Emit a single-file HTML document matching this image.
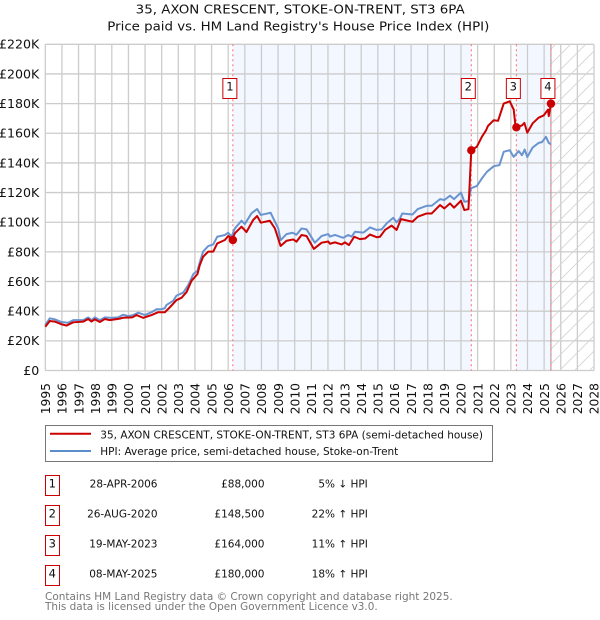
<!DOCTYPE html>
<html>
<head>
<meta charset="utf-8">
<style>
html,body{margin:0;padding:0;background:#fff;}
svg{display:block;font-family:"DejaVu Sans",sans-serif;}
</style>
</head>
<body>
<svg id="chart" width="600" height="620" viewBox="0 0 600 620" xmlns="http://www.w3.org/2000/svg">
<defs>
<pattern id="hatch" patternUnits="userSpaceOnUse" width="15" height="15">
<path d="M-3 3 L3 -3 M0 15 L15 0 M12 18 L18 12" stroke="#d4d4d4" stroke-width="0.9" fill="none"/>
</pattern>
</defs>
<text x="135.7" y="13.5" textLength="329" lengthAdjust="spacingAndGlyphs" font-size="12.4" fill="#111">35, AXON CRESCENT, STOKE-ON-TRENT, ST3 6PA</text>
<text x="107.3" y="30.5" textLength="382" lengthAdjust="spacingAndGlyphs" font-size="12.4" fill="#111">Price paid vs. HM Land Registry's House Price Index (HPI)</text>
<g id="plot"></g>
<g>
<rect x="45.5" y="425.5" width="447" height="36" fill="#fff" stroke="#777" stroke-width="1"/>
<line x1="50" x2="91" y1="433.7" y2="433.7" stroke="#cc0000" stroke-width="2"/>
<text x="100.3" y="438.3" textLength="382.7" lengthAdjust="spacingAndGlyphs" font-size="11" fill="#111">35, AXON CRESCENT, STOKE-ON-TRENT, ST3 6PA (semi-detached house)</text>
<line x1="50" x2="91" y1="451" y2="451" stroke="#5b8dcd" stroke-width="2"/>
<text x="100.3" y="455" textLength="298" lengthAdjust="spacingAndGlyphs" font-size="11" fill="#111">HPI: Average price, semi-detached house, Stoke-on-Trent</text>
</g>
<g id="sales-table" font-size="10.5" fill="#111"></g>
<text x="45" y="600" textLength="407.7" lengthAdjust="spacingAndGlyphs" font-size="11" fill="#777">Contains HM Land Registry data © Crown copyright and database right 2025.</text>
<text x="45" y="610" textLength="332.7" lengthAdjust="spacingAndGlyphs" font-size="11" fill="#777">This data is licensed under the Open Government Licence v3.0.</text>
</svg>
<script>
const yearTicks = [1995,1996,1997,1998,1999,2000,2001,2002,2003,2004,2005,2006,2007,2008,2009,2010,2011,2012,2013,2014,2015,2016,2017,2018,2019,2020,2021,2022,2023,2024,2025,2026,2027,2028];
const valueTicks = [0,20,40,60,80,100,120,140,160,180,200,220];
const valueTickLabels = ['£0','£20K','£40K','£60K','£80K','£100K','£120K','£140K','£160K','£180K','£200K','£220K'];

const hpiYears = [1995,1995.27,1995.57,1995.97,1996.37,1996.68,1997.28,1997.58,1997.78,1997.98,1998.28,1998.58,1998.98,1999.38,1999.68,1999.98,2000.29,2000.59,2000.99,2001.39,2001.69,2001.99,2002.19,2002.29,2002.69,2002.89,2003.29,2003.6,2003.9,2004.15,2004.33,2004.49,2004.8,2005.1,2005.34,2005.8,2006.0,2006.2,2006.4,2006.8,2007,2007.4,2007.74,2007.96,2008.2,2008.55,2008.81,2009.01,2009.15,2009.51,2009.87,2010.11,2010.41,2010.71,2011.21,2011.62,2012.02,2012.12,2012.42,2012.92,2013.22,2013.42,2013.63,2014.13,2014.53,2014.93,2015.23,2015.53,2015.93,2016.13,2016.33,2016.47,2017.08,2017.4,2017.94,2018.24,2018.74,2019,2019.34,2019.58,2020,2020.2,2020.45,2020.6,2020.96,2021.26,2021.56,2021.97,2022.31,2022.57,2022.93,2023.17,2023.47,2023.67,2023.83,2023.99,2024.31,2024.67,2024.87,2025.11,2025.28,2025.41];
const hpiValues = [30.7,35.2,34.5,32.7,32.2,34,34,35.8,34,35.8,34,35.8,35.5,35.8,37.6,36.7,37.4,39,37.4,39.3,41.3,41.3,42,44.2,47,50.5,52.5,57.6,65,67.3,74.5,80.2,83.9,85,90.2,91.4,92.9,90.2,95.8,101,98.8,106,108.9,104.9,105.5,106.4,100.4,95.8,87.9,92,92.9,91.6,95.8,95.2,86.2,90.7,92,90.3,91.4,89.5,91.4,90.3,93.6,93,96.5,94.8,95.2,99.2,103,99.9,102.6,105.9,105.2,108.9,111.1,111.1,115.6,115,117.9,115.6,120,113.8,114.2,122.9,124.5,129.6,134,137.8,138.5,147.5,148.6,144.1,148,145.2,149,144,150.4,153.5,154,157.6,153.5,152.6];

const priceYears = [1995,1995.27,1995.57,1995.97,1996.27,1996.68,1997.28,1997.58,1997.78,1997.98,1998.28,1998.58,1998.88,1999.48,1999.68,2000.23,2000.49,2000.89,2001.39,2001.79,2002.19,2002.49,2002.89,2003.19,2003.5,2003.8,2004.15,2004.29,2004.49,2004.8,2005.1,2005.34,2005.8,2006,2006.24,2006.4,2006.8,2007.1,2007.5,2007.74,2007.96,2008.5,2008.81,2009.15,2009.51,2009.91,2010.11,2010.41,2010.71,2011.15,2011.62,2012.02,2012.12,2012.42,2012.82,2013.02,2013.26,2013.58,2013.92,2014.23,2014.53,2014.93,2015.13,2015.43,2015.83,2016.13,2016.39,2017.08,2017.4,2017.94,2018.24,2018.74,2019,2019.34,2019.58,2020,2020.2,2020.45,2020.62,2020.96,2021.26,2021.5,2021.62,2021.97,2022.23,2022.57,2022.93,2023.17,2023.27,2023.33,2023.67,2023.81,2023.99,2024.31,2024.67,2024.97,2025.24,2025.28,2025.41];
const priceValues = [29.5,33.4,33,31.2,30.3,32.5,33,34.7,33,34.5,32.7,34.7,34,35,35.6,35.8,37.4,35.5,37.4,39.3,39.3,42.6,47.5,49,53,60.6,65,71.1,76.7,80.2,80.2,85.7,88,90.7,88.5,92.5,97,93.4,101.5,104.2,99.7,101,95.8,84,87.5,88.4,86.9,91.4,90.7,82,86.2,87,85.5,86.4,85,86.4,84.6,90.2,88.6,89,91.7,89.9,90.2,94.8,97.7,94.8,102.1,100.3,103.7,105.9,105.9,111.6,109.3,112.7,109.8,114.5,108.2,108.8,148.5,151,157.7,161.8,164.9,168.8,168.4,180,181.6,176,165.9,164,165.3,167,160.4,166.7,170.5,172,176,171.6,180];

const saleNumbers = ['1','2','3','4'];
const saleYears = [2006.28,2020.62,2023.33,2025.41];
const salePrices = [88,148.5,164,180];
const saleDates = ['28-APR-2006','26-AUG-2020','19-MAY-2023','08-MAY-2025'];
const salePriceLabels = ['£88,000','£148,500','£164,000','£180,000'];
const saleChanges = ['5% ↓ HPI','22% ↑ HPI','11% ↑ HPI','18% ↑ HPI'];

const NS = 'http://www.w3.org/2000/svg';
const plot = document.getElementById('plot');
const table = document.getElementById('sales-table');
const X0 = 45.3, X1 = 594, Y0 = 370.5, Y1 = 44.3;
const xMin = yearTicks[0], xMax = yearTicks[yearTicks.length - 1];
const vMax = valueTicks[valueTicks.length - 1];
function xScale(year) { return X0 + (year - xMin) / (xMax - xMin) * (X1 - X0); }
function yScale(value) { return Y0 - value / vMax * (Y0 - Y1); }
function make(tag, attrs, parent, text) {
  const el = document.createElementNS(NS, tag);
  for (const k in attrs) el.setAttribute(k, attrs[k]);
  if (text !== undefined) el.textContent = text;
  parent.appendChild(el);
  return el;
}

const hatchEnd = xScale(saleYears[3]);
const band1 = make('rect', {x: xScale(saleYears[0]), y: Y1, width: xScale(saleYears[1]) - xScale(saleYears[0]), height: Y0 - Y1, fill: '#f3f7ff'}, plot);


const band2 = make('rect', {x: xScale(saleYears[2]), y: Y1, width: hatchEnd - xScale(saleYears[2]), height: Y0 - Y1, fill: '#f3f7ff'}, plot);



yearTicks.forEach(function (yr) {
  const x = xScale(yr);
  const grid = make('line', {x1: x, x2: x, y1: Y1, y2: Y0, stroke: '#cccccc', 'stroke-width': 1.3}, plot);
  
  
  const label = make('text', {transform: 'translate(' + (x + 4.7) + ',' + (Y0 + 12.5) + ') rotate(-90)', 'text-anchor': 'end', 'font-size': 12.3, fill: '#111'}, plot, String(yr));
  
  
});
valueTicks.forEach(function (v, i) {
  const y = yScale(v);
  const grid = make('line', {x1: X0, x2: X1, y1: y, y2: y, stroke: '#cccccc', 'stroke-width': 1.3}, plot);
  
  
  const label = make('text', {x: 39.3, y: y + 4.4, 'text-anchor': 'end', 'font-size': 12.6, fill: '#111'}, plot, valueTickLabels[i]);
  
  
});

const hatch = make('rect', {x: hatchEnd, y: Y1, width: X1 - hatchEnd, height: Y0 - Y1, fill: 'url(#hatch)'}, plot);


const endLine = make('line', {x1: hatchEnd, x2: hatchEnd, y1: Y1, y2: Y0, stroke: '#999999', 'stroke-width': 1}, plot);



saleYears.forEach(function (yr) {
  const x = xScale(yr);
  const guide = make('line', {x1: x, x2: x, y1: Y1, y2: Y0, stroke: '#ff6b6b', 'stroke-width': 1, 'stroke-dasharray': '2 3'}, plot);
  
  
});

function seriesPath(years, values) {
  return years.map(function (yr, i) {
    return (i ? 'L' : 'M') + xScale(yr).toFixed(2) + ' ' + yScale(values[i]).toFixed(2);
  }).join(' ');
}
const hpiLine = make('path', {d: seriesPath(hpiYears, hpiValues), fill: 'none', stroke: '#6a94d0', 'stroke-width': 2, 'stroke-linejoin': 'round'}, plot);


const priceLine = make('path', {d: seriesPath(priceYears, priceValues), fill: 'none', stroke: '#cc0000', 'stroke-width': 2, 'stroke-linejoin': 'round'}, plot);



saleYears.forEach(function (yr, i) {
  const x = xScale(yr);
  const dot = make('circle', {cx: x, cy: yScale(salePrices[i]), r: 4.2, fill: '#cc0000'}, plot);
  
  
  const box = make('rect', {x: x - 10, y: 78.5, width: 14, height: 20, fill: '#fff', stroke: '#cc0000', 'stroke-width': 1}, plot);
  
  
  const num = make('text', {x: x - 3, y: 90.7, 'text-anchor': 'middle', 'font-size': 11.5, fill: '#111'}, plot, saleNumbers[i]);
  
  

  const rowY = 475.5 + i * 30;
  const rowBox = make('rect', {x: 45.5, y: rowY, width: 14, height: 20, fill: '#fff', stroke: '#cc0000', 'stroke-width': 1}, table);
  
  
  const rowNum = make('text', {x: 52.3, y: rowY + 12, 'text-anchor': 'middle', 'font-size': 11.5}, table, saleNumbers[i]);
  
  
  const rowDate = make('text', {x: 157.5, y: rowY + 12, 'text-anchor': 'end'}, table, saleDates[i]);
  
  
  const rowPrice = make('text', {x: 264.5, y: rowY + 12, 'text-anchor': 'end'}, table, salePriceLabels[i]);
  
  
  const rowChange = make('text', {x: 367.8, y: rowY + 12, 'text-anchor': 'end'}, table, saleChanges[i]);
  
  
});
</script>
</body>
</html>
